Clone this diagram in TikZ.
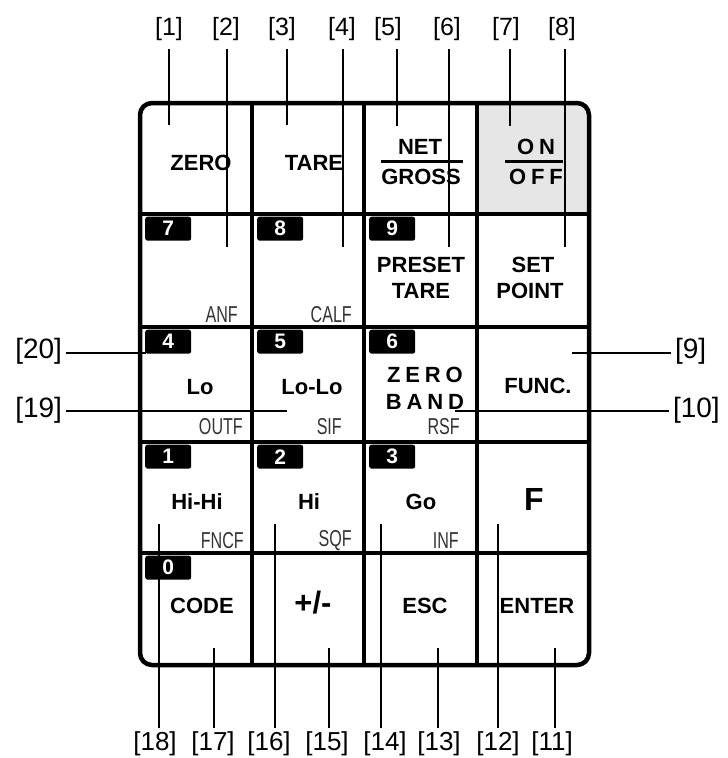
\documentclass[tikz,border=0pt]{standalone}
\usepackage{fontspec}
\setmainfont{Liberation Sans}
\newfontfamily\narrowfont[FakeStretch=0.7]{Liberation Sans}
\definecolor{keygrey}{HTML}{E6E6E6}
\definecolor{fncol}{HTML}{333333}
\begin{document}
\begin{tikzpicture}[x=1pt,y=-1pt,
  keytxt/.style={font=\bfseries\fontsize{22}{22}\selectfont, inner sep=0pt},
  spaced/.style={font=\bfseries\fontsize{22}{22}\selectfont\addfontfeature{LetterSpace=22}, inner sep=0pt},
  fnlbl/.style={font=\narrowfont\fontsize{23}{23}\selectfont, text=fncol, inner sep=0pt, anchor=east},
  tabnode/.style={fill=black, text=white, font=\bfseries\fontsize{21}{21}\selectfont, minimum width=46pt, minimum height=24pt, inner sep=0pt, rounded corners=2.5pt, anchor=north west},
  toplbl/.style={font=\fontsize{25}{25}\selectfont, inner sep=0pt, outer ysep=8pt, anchor=south},
  botlbl/.style={font=\fontsize{26}{26}\selectfont, inner sep=0pt, outer ysep=4pt, anchor=north},
  sidelbl/.style={font=\fontsize{28}{28}\selectfont, inner sep=0pt, outer xsep=4pt},
  grid/.style={line width=4.5pt},
  callout/.style={line width=2.7pt}
]
\useasboundingbox (0,0) rectangle (728,758);
% grey ON/OFF key
\begin{scope}
  \clip[rounded corners=12pt] (140,103) rectangle (589,665);
  \fill[keygrey] (477,103) rectangle (589,214);
\end{scope}
% grid
\draw[grid, rounded corners=12pt] (140,103) rectangle (589,665);
\foreach \x in {252,364,477} \draw[grid] (\x,103) -- (\x,665);
\foreach \y in {214,327,442,553} \draw[grid] (140,\y) -- (589,\y);

% number tabs
\node[tabnode] (t7) at (145,216.5) {7};
\node[tabnode] (t8) at (257,216.5) {8};
\node[tabnode] (t9) at (369,216.5) {9};
\node[tabnode] (t4) at (145,329.5) {4};
\node[tabnode] (t5) at (257,329.5) {5};
\node[tabnode] (t6) at (369,329.5) {6};
\node[tabnode] (t1) at (145,444.5) {1};
\node[tabnode] (t2) at (257,444.5) {2};
\node[tabnode] (t3) at (369,444.5) {3};
\node[tabnode] (t0) at (145,555.5) {0};

% key labels
\node[keytxt] (kzero) at (201,163) {ZERO};
\node[keytxt] (ktare) at (314,163) {TARE};
\node[keytxt] (knet) at (420,147) {NET};
\node[keytxt] (kgross) at (421,177) {GROSS};
\node[spaced] (kon) at (536,147) {ON};
\node[spaced] (koff) at (536,177) {OFF};
\draw[line width=3pt] (381,161) -- (463,161);
\draw[line width=3pt] (505,161) -- (563,161);
\node[keytxt] (kpreset) at (421,265) {PRESET};
\node[keytxt] (ktare2) at (421,291) {TARE};
\node[keytxt] (kset) at (533,265) {SET};
\node[keytxt] (kpoint) at (530,291) {POINT};
\node[keytxt] (klo) at (200,387) {Lo};
\node[keytxt] (klolo) at (312,387) {Lo-Lo};
\node[spaced] (kzb1) at (425,375) {ZERO};
\node[spaced] (kzb2) at (425,402) {BAND};
\node[keytxt] (kfunc) at (538,386) {FUNC.};
\node[keytxt] (khihi) at (197,502) {Hi-Hi};
\node[keytxt] (khi) at (309,502) {Hi};
\node[keytxt] (kgo) at (421,502) {Go};
\node[keytxt, font=\bfseries\fontsize{32}{32}\selectfont] (kf) at (534,499) {F};
\node[keytxt] (kcode) at (202,606) {CODE};
\node[keytxt, font=\bfseries\fontsize{31}{31}\selectfont] (kpm) at (313,603) {+/-};
\node[keytxt] (kesc) at (425,606) {ESC};
\node[keytxt] (kenter) at (537,606) {ENTER};

% function labels
\node[fnlbl] (fanf) at (238,315) {ANF};
\node[fnlbl] (fcalf) at (352,315) {CALF};
\node[fnlbl] (foutf) at (243,427) {OUTF};
\node[fnlbl] (fsif) at (342,427) {SIF};
\node[fnlbl] (frsf) at (460,427) {RSF};
\node[fnlbl] (ffncf) at (244,541) {FNCF};
\node[fnlbl] (fsqf) at (352,541) {SQF};
\node[fnlbl] (finf) at (459,541) {INF};

% top callouts
\node[toplbl] (L1) at (169,49) {[1]};
\node[toplbl] (L2) at (226,49) {[2]};
\node[toplbl] (L3) at (282,49) {[3]};
\node[toplbl] (L4) at (342,49) {[4]};
\node[toplbl] (L5) at (388,49) {[5]};
\node[toplbl] (L6) at (447,49) {[6]};
\node[toplbl] (L7) at (506,49) {[7]};
\node[toplbl] (L8) at (562,49) {[8]};
\coordinate (e1) at (169,125);
\coordinate (e2) at (227,247);
\coordinate (e3) at (287,125);
\coordinate (e4) at (343,247);
\coordinate (e5) at (397,126);
\coordinate (e6) at (449,247);
\coordinate (e7) at (510,126);
\coordinate (e8) at (565,247);
\foreach \i in {1,...,8} \draw[callout] (e\i |- L\i.south) -- (e\i);

% bottom callouts
\node[botlbl] (L18) at (155,728) {[18]};
\node[botlbl] (L17) at (213,728) {[17]};
\node[botlbl] (L16) at (269,728) {[16]};
\node[botlbl] (L15) at (327,728) {[15]};
\node[botlbl] (L14) at (385,728) {[14]};
\node[botlbl] (L13) at (439,728) {[13]};
\node[botlbl] (L12) at (498,728) {[12]};
\node[botlbl] (L11) at (552,728) {[11]};
\coordinate (e18) at (159,524);
\coordinate (e17) at (214,648);
\coordinate (e16) at (275,524);
\coordinate (e15) at (329,648);
\coordinate (e14) at (381,524);
\coordinate (e13) at (438,648);
\coordinate (e12) at (498,524);
\coordinate (e11) at (555,648);
\foreach \i in {11,...,18} \draw[callout] (e\i |- L\i.north) -- (e\i);

% side callouts
\node[sidelbl, anchor=east] (L20) at (66,351) {[20]};
\node[sidelbl, anchor=east] (L19) at (66,410) {[19]};
\node[sidelbl, anchor=west] (L9) at (671,351) {[9]};
\node[sidelbl, anchor=west] (L10) at (669,410) {[10]};
\coordinate (e20) at (146,353);
\coordinate (e19) at (287,411);
\coordinate (e9) at (572,353);
\coordinate (e10) at (455,411);
\draw[callout] (L20.east |- e20) -- (e20);
\draw[callout] (L19.east |- e19) -- (e19);
\draw[callout] (e9) -- (L9.west |- e9);
\draw[callout] (e10) -- (L10.west |- e10);
\end{tikzpicture}
\end{document}
